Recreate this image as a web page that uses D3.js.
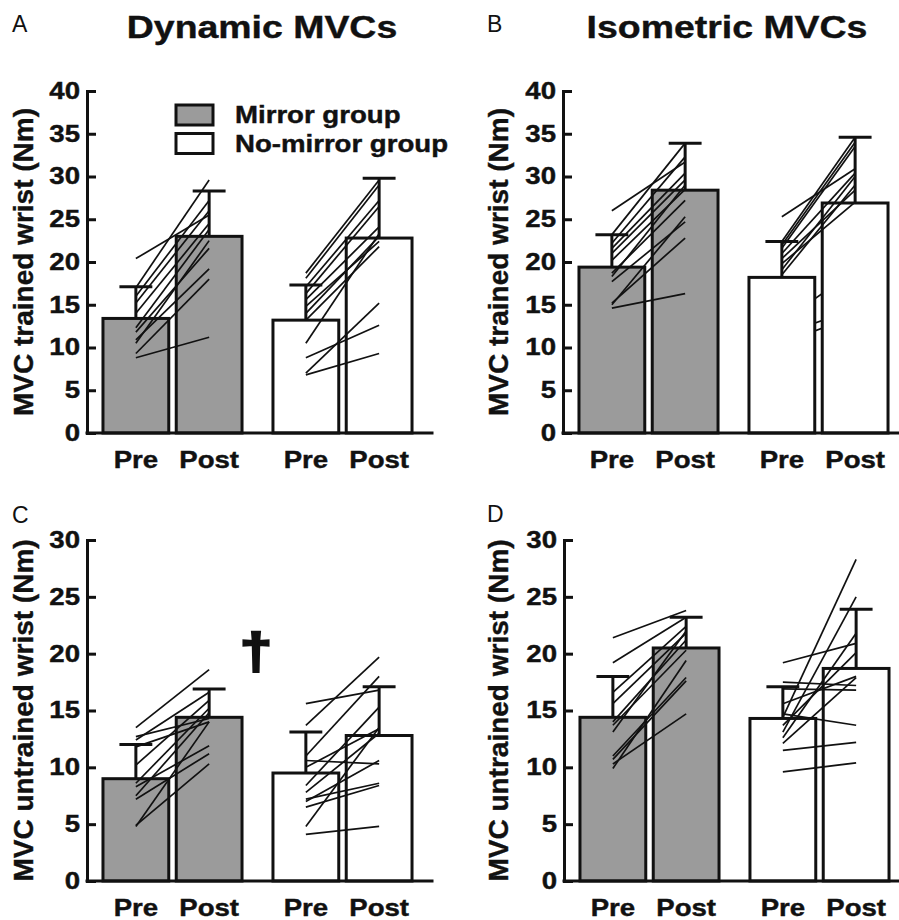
<!DOCTYPE html>
<html>
<head>
<meta charset="utf-8">
<script src="https://cdn.jsdelivr.net/npm/d3@7"></script>
<style>
  body { margin: 0; background: #fff; }
  svg { display: block; font-family: "Liberation Sans", Arial, sans-serif; }
</style>
</head>
<body>
<svg id="canvas" width="899" height="920"></svg>
<script>
let groups = ["Mirror group", "No-mirror group"];
let phases = ["Pre", "Post"];

// bar order: mirror pre, mirror post, no-mirror pre, no-mirror post
let dynTrainedMean = [13.4, 23.0, 13.2, 22.8];
let dynTrainedErr = [17.1, 28.3, 17.3, 29.8];
let isoTrainedMean = [19.4, 28.4, 18.2, 26.9];
let isoTrainedErr = [23.2, 33.9, 22.4, 34.6];
let dynUntrainedMean = [9.0, 14.4, 9.5, 12.8];
let dynUntrainedErr = [12.0, 16.9, 13.1, 17.1];
let isoUntrainedMean = [14.4, 20.5, 14.3, 18.7];
let isoUntrainedErr = [18.0, 23.2, 17.1, 23.9];

// single subjects, [pre, post]
let dynTrainedMirror = [[20.4, 25.5], [17.0, 29.6], [16.0, 27.2], [15.2, 26.0], [14.0, 24.5], [12.3, 23.8],
  [11.8, 21.6], [10.9, 19.2], [10.5, 22.5], [9.3, 18.0], [8.8, 11.2]];
let dynTrainedNoMirror = [[18.7, 29.6], [18.1, 29.0], [17.1, 27.2], [16.3, 26.5], [15.6, 24.1], [14.8, 22.4],
  [14.0, 23.0], [13.2, 21.8], [10.5, 23.3], [8.8, 12.6], [7.0, 15.2], [6.8, 9.3]];
let isoTrainedMirror = [[26.0, 31.7], [23.2, 33.9], [22.2, 32.3], [21.6, 30.4], [21.0, 29.6], [20.2, 28.5],
  [18.7, 27.2], [18.3, 29.0], [17.7, 24.7], [15.2, 22.8], [15.0, 25.3], [14.6, 16.3]];
let isoTrainedNoMirror = [[25.3, 30.9], [22.4, 34.6], [22.0, 34.0], [21.6, 33.5], [21.0, 30.4], [20.4, 28.4],
  [19.8, 27.0], [19.1, 30.0], [18.5, 29.0]];
let isoTrainedNoMirrorHidden = [[13.0, 19.0], [11.5, 14.5], [10.5, 13.7]];
let dynUntrainedMirror = [[13.5, 18.6], [12.7, 14.3], [12.4, 16.6], [11.8, 14.0], [10.2, 15.9], [8.6, 15.2],
  [8.3, 11.9], [7.5, 14.8], [7.2, 11.2], [4.9, 10.3], [4.8, 14.0]];
let dynUntrainedNoMirror = [[15.6, 16.8], [13.7, 19.7], [11.0, 18.0], [10.6, 10.3], [10.0, 13.4], [8.4, 15.3],
  [7.8, 13.0], [7.2, 8.6], [7.0, 10.6], [6.5, 8.4], [4.8, 13.5], [4.1, 4.8]];
let isoUntrainedMirror = [[21.4, 23.8], [19.2, 23.2], [16.6, 22.4], [15.6, 21.8], [14.0, 21.2], [13.7, 20.3],
  [13.1, 22.0], [11.0, 17.9], [10.7, 17.6], [10.3, 14.7], [9.9, 19.4]];
let isoUntrainedNoMirror = [[19.2, 20.9], [17.5, 17.2], [16.9, 16.8], [15.6, 18.0], [14.7, 13.7], [14.4, 28.3],
  [13.7, 20.1], [13.1, 25.0], [12.6, 21.8], [12.1, 17.9], [11.5, 12.2], [9.6, 10.4]];

let yTicksTrained = [0, 5, 10, 15, 20, 25, 30, 35, 40];
let yTicksUntrained = [0, 5, 10, 15, 20, 25, 30];

let svg = d3.select("#canvas");
let sx = 1.2; // the printed lettering is a bit wider than Arial
let ink = "#111";

let panels = [
  { letter: "A", lx: 12, ly: 32, left: 87, top: 91, h: 342, axisW: 345, max: 40, ticks: yTicksTrained,
    ylabel: "MVC trained wrist (Nm)", ylabelX: 33, means: dynTrainedMean, errs: dynTrainedErr,
    lines: [dynTrainedMirror, dynTrainedNoMirror], hidden: [[], []] },
  { letter: "B", lx: 487, ly: 32, left: 563, top: 91, h: 342, axisW: 340, max: 40, ticks: yTicksTrained,
    ylabel: "MVC trained wrist (Nm)", ylabelX: 508, means: isoTrainedMean, errs: isoTrainedErr,
    lines: [isoTrainedMirror, isoTrainedNoMirror], hidden: [[], isoTrainedNoMirrorHidden] },
  { letter: "C", lx: 12, ly: 523, left: 87, top: 540, h: 341, axisW: 345, max: 30, ticks: yTicksUntrained,
    ylabel: "MVC untrained wrist (Nm)", ylabelX: 33, means: dynUntrainedMean, errs: dynUntrainedErr,
    lines: [dynUntrainedMirror, dynUntrainedNoMirror], hidden: [[], []] },
  { letter: "D", lx: 487, ly: 522, left: 564, top: 540, h: 341, axisW: 340, max: 30, ticks: yTicksUntrained,
    ylabel: "MVC untrained wrist (Nm)", ylabelX: 508, means: isoUntrainedMean, errs: isoUntrainedErr,
    lines: [isoUntrainedMirror, isoUntrainedNoMirror], hidden: [[], []] }
];

// heavy print look
let heavy = (sel, size) => {
  sel.style("font-size", size + "px")
    .style("font-weight", "bold")
    .attr("fill", ink)
    .attr("stroke", ink)
    .attr("stroke-width", 0.4);
};

let drawPanel = (p) => {
  let g = svg.append("g").attr("transform", "translate(" + p.left + "," + p.top + ")");

  let yScale = d3.scaleLinear().domain([0, p.max]).range([p.h, 0]);
  let x0 = d3.scaleBand().domain(groups).range([0, 341]).paddingInner(0.182).paddingOuter(0.094);
  let x1 = d3.scaleBand().domain(phases).range([0, x0.bandwidth()]).paddingInner(0.102);
  let bw = x1.bandwidth();
  let cx = (grp, ph) => x0(grp) + x1(ph) + bw / 2;

  let rows = [];
  groups.forEach((grp, gi) => {
    phases.forEach((ph, pi) => {
      rows.push({ group: grp, phase: ph, mean: p.means[gi * 2 + pi], err: p.errs[gi * 2 + pi] });
    });
  });

  let drawLines = (sets) => {
    groups.forEach((grp, gi) => {
      g.append("g")
        .selectAll("line")
        .data(sets[gi])
        .enter()
        .append("line")
        .attr("x1", cx(grp, "Pre"))
        .attr("x2", cx(grp, "Post"))
        .attr("y1", (d) => yScale(d[0]))
        .attr("y2", (d) => yScale(d[1]))
        .attr("stroke", ink)
        .attr("stroke-width", 1.7);
    });
  };

  drawLines(p.hidden);

  // error bars (upper half only)
  rows.forEach((r) => {
    let x = cx(r.group, r.phase);
    g.append("line")
      .attr("x1", x).attr("x2", x)
      .attr("y1", yScale(r.mean)).attr("y2", yScale(r.err))
      .attr("stroke", ink).attr("stroke-width", 3);
    g.append("line")
      .attr("x1", x - bw / 4).attr("x2", x + bw / 4)
      .attr("y1", yScale(r.err)).attr("y2", yScale(r.err))
      .attr("stroke", ink).attr("stroke-width", 3);
  });

  g.selectAll("rect.bar")
    .data(rows)
    .enter()
    .append("rect")
    .attr("class", "bar")
    .attr("x", (d) => x0(d.group) + x1(d.phase))
    .attr("y", (d) => yScale(d.mean))
    .attr("width", bw)
    .attr("height", (d) => yScale(0) - yScale(d.mean))
    .attr("fill", (d) => (d.group === groups[0] ? "#9b9b9b" : "#fff"))
    .attr("stroke", ink)
    .attr("stroke-width", 3);

  drawLines(p.lines);

  // axes
  let yAxis = d3.axisLeft(yScale).tickValues(p.ticks).tickSize(-9).tickSizeOuter(0).tickPadding(8);
  let ya = g.append("g").call(yAxis);
  ya.select(".domain").attr("stroke", ink).attr("stroke-width", 3).attr("stroke-linecap", "square");
  ya.selectAll(".tick line").attr("stroke", ink).attr("stroke-width", 3);
  ya.selectAll(".tick text")
    .attr("x", 0)
    .attr("transform", "translate(-7,0) scale(" + sx + ",1)")
    .style("font-family", '"Liberation Sans", Arial, sans-serif')
    .call(heavy, 23);

  g.append("line")
    .attr("x1", 0).attr("x2", p.axisW)
    .attr("y1", yScale(0)).attr("y2", yScale(0))
    .attr("stroke", ink).attr("stroke-width", 3).attr("stroke-linecap", "square");

  rows.forEach((r) => {
    g.append("text")
      .attr("transform", "translate(" + cx(r.group, r.phase) + "," + (p.h + 35) + ") scale(" + sx + ",1)")
      .attr("text-anchor", "middle")
      .call(heavy, 23)
      .text(r.phase);
  });

  svg.append("text")
    .attr("transform", "translate(" + p.ylabelX + "," + (p.top + p.h / 2) + ") rotate(-90)")
    .attr("text-anchor", "middle")
    .call(heavy, 28)
    .text(p.ylabel);

  svg.append("text")
    .attr("x", p.lx).attr("y", p.ly)
    .style("font-size", "23px")
    .attr("fill", ink)
    .text(p.letter);
};

panels.forEach(drawPanel);

// column titles
[["Dynamic MVCs", 262], ["Isometric MVCs", 727]].forEach((t) => {
  svg.append("text")
    .attr("transform", "translate(" + t[1] + ",38) scale(1.17,1)")
    .attr("text-anchor", "middle")
    .call(heavy, 32)
    .text(t[0]);
});

// legend in panel A
let legend = svg.append("g").attr("transform", "translate(176,105)");
groups.forEach((grp, i) => {
  legend.append("rect")
    .attr("x", 0).attr("y", i * 28.5)
    .attr("width", 37).attr("height", 20)
    .attr("fill", i === 0 ? "#9b9b9b" : "#fff")
    .attr("stroke", ink).attr("stroke-width", 3);
  legend.append("text")
    .attr("transform", "translate(59," + (i * 28.5 + 18) + ") scale(" + sx + ",1)")
    .call(heavy, 23)
    .text(grp);
});

// significance mark in panel C
svg.append("text")
  .attr("transform", "translate(256,668) scale(1.15,1)")
  .attr("text-anchor", "middle")
  .style("font-size", "50px")
  .style("font-weight", "bold")
  .attr("fill", ink)
  .attr("stroke", ink)
  .attr("stroke-width", 2.5)
  .text("\u2020");
</script>
</body>
</html>
